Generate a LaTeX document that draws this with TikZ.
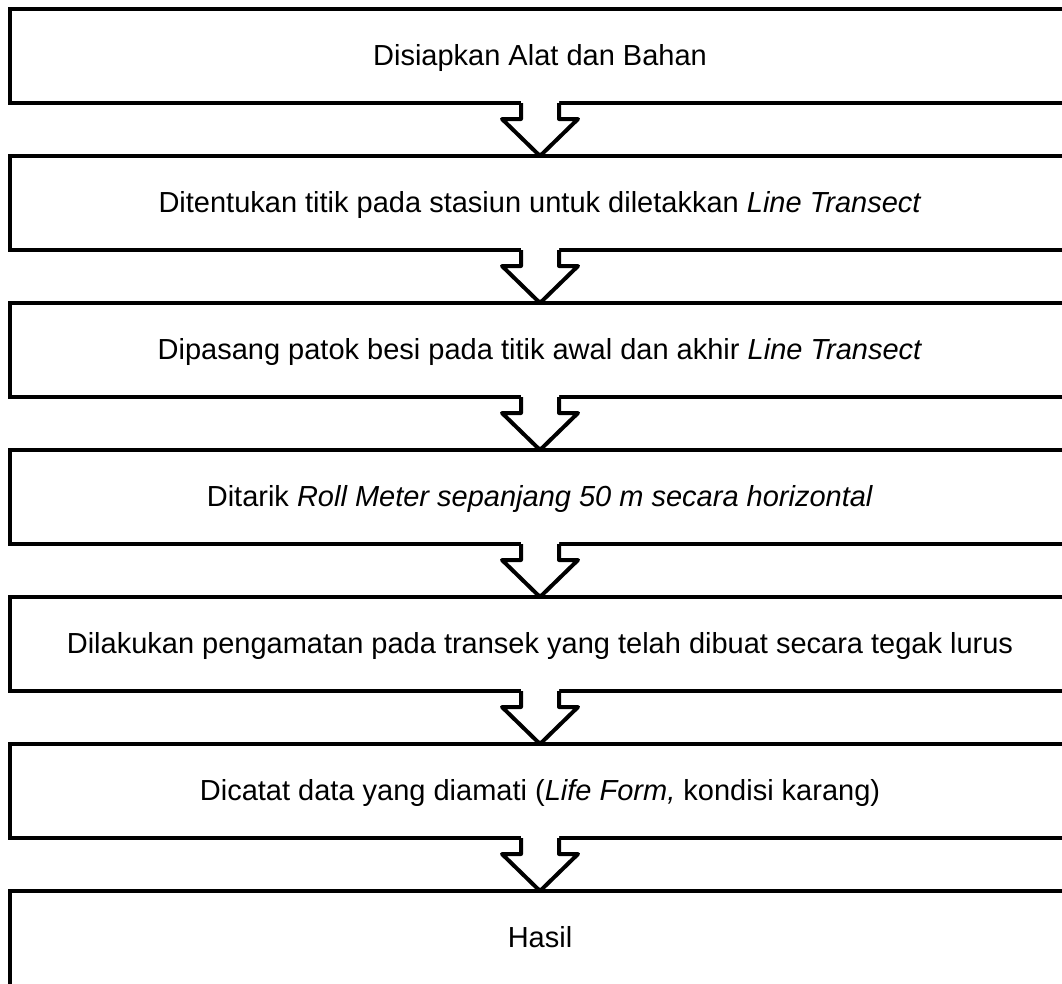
\documentclass[tikz,border=0pt]{standalone}
\usepackage{fontspec}
\setmainfont{Liberation Sans}
\usetikzlibrary{calc}

\tikzset{
  stepbox/.style={shape=rectangle, draw=black, line width=4pt, outer sep=0pt,
    minimum width=1060pt, minimum height=94pt, text height=18pt, text depth=0pt,
    font=\fontsize{29}{35}\selectfont},
  flowarrow/.style={draw=black, line width=4pt, line join=round}
}

\begin{document}
\begin{tikzpicture}[x=1pt, y=1pt]
        \useasboundingbox (0,0) rectangle (1062,-983);
        \node[stepbox] (s1) at (540,-56) {Disiapkan Alat dan Bahan};
        \node[stepbox] (s2) at (540,-203) {Ditentukan titik pada stasiun untuk diletakkan \textit{Line Transect}};
        \node[stepbox] (s3) at (540,-350) {Dipasang patok besi pada titik awal dan akhir \textit{Line Transect}};
        \node[stepbox] (s4) at (540,-497) {Ditarik \textit{Roll Meter sepanjang 50 m secara horizontal}};
        \node[stepbox] (s5) at (540,-644) {Dilakukan pengamatan pada transek yang telah dibuat secara tegak lurus};
        \node[stepbox] (s6) at (540,-791) {Dicatat data yang diamati (\textit{Life Form,} kondisi karang)};
        \node[stepbox, minimum height=100pt, text depth=6pt] (hasil) at (540,-941) {Hasil};

        % hollow block arrows between the steps
        \foreach \a/\b in {s1/s2, s2/s3, s3/s4, s4/s5, s5/s6, s6/hasil} {
          \fill[white] ($(\a.south)+(-19,3)$) -- ($(\a.south)+(-19,-16)$) -- ($(\a.south)+(-38,-16)$)
            -- (\b.north) -- ($(\a.south)+(38,-16)$) -- ($(\a.south)+(19,-16)$) -- ($(\a.south)+(19,3)$) -- cycle;
          \draw[flowarrow] ($(\a.south)+(-19,0)$) -- ($(\a.south)+(-19,-16)$) -- ($(\a.south)+(-38,-16)$)
            -- (\b.north) -- ($(\a.south)+(38,-16)$) -- ($(\a.south)+(19,-16)$) -- ($(\a.south)+(19,0)$);
        }
\end{tikzpicture}
\end{document}
